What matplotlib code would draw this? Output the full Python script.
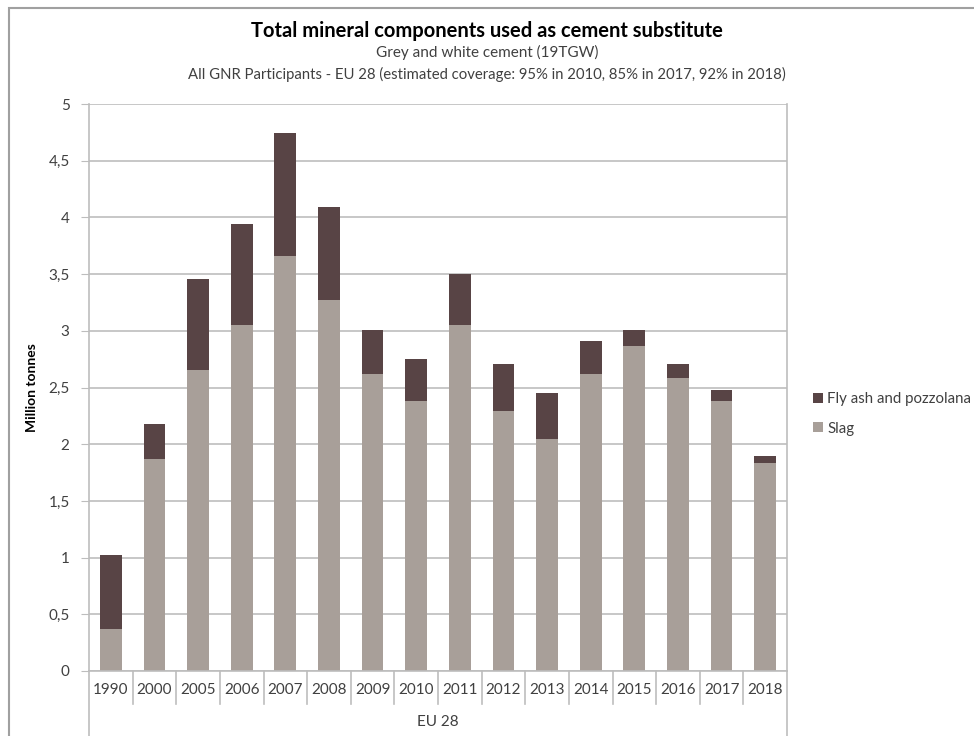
import matplotlib.pyplot as plt
from matplotlib.patches import Rectangle
from matplotlib.lines import Line2D
from matplotlib.ticker import FuncFormatter

plt.rcParams['font.family'] = ['Lato', 'DejaVu Sans']

years = ['1990', '2000', '2005', '2006', '2007', '2008', '2009', '2010',
         '2011', '2012', '2013', '2014', '2015', '2016', '2017', '2018']
slag = [0.37, 1.87, 2.65, 3.05, 3.66, 3.27, 2.62, 2.38,
        3.05, 2.29, 2.05, 2.62, 2.87, 2.58, 2.38, 1.83]
totale = [1.02, 2.18, 3.46, 3.94, 4.74, 4.09, 3.01, 2.75,
          3.50, 2.71, 2.45, 2.91, 3.01, 2.71, 2.48, 1.90]
fly_ash = [t - s for t, s in zip(totale, slag)]
gruppo = 'EU 28'

col_slag = '#a89f99'
col_fly = '#584445'
col_grid = '#bdbdbd'
col_txt = '#404040'

fig = plt.figure(figsize=(9.74, 7.36), dpi=100)
ax = fig.add_axes([89 / 974, 1 - 671 / 736, (787 - 89) / 974, (671 - 104) / 736])

x = list(range(len(years)))
ax.bar(x, slag, width=0.5, color=col_slag, label='Slag', zorder=3)
ax.bar(x, fly_ash, width=0.5, bottom=slag, color=col_fly,
       label='Fly ash and pozzolana', zorder=3)

ax.set_xlim(-0.5, len(years) - 0.5)
ax.set_ylim(0, 5)
ax.set_yticks([i * 0.5 for i in range(11)])
ax.yaxis.set_major_formatter(FuncFormatter(lambda v, p: ('%g' % v).replace('.', ',')))
ax.yaxis.grid(True, color=col_grid, linewidth=1.2, zorder=0)
ax.tick_params(axis='y', length=6, color=col_grid, labelsize=11, labelcolor=col_txt, pad=8)
ax.set_xticks([])

for s in ['top', 'bottom', 'right']:
    ax.spines[s].set_visible(False)
ax.spines['left'].set_color(col_grid)
ax.spines['left'].set_linewidth(1.2)
ax.plot([-0.5, len(years) - 0.5], [0, 0], color=col_grid, lw=1.2,
        clip_on=False, zorder=4)
# bordo destro dell'area del grafico
ax.plot([len(years) - 0.5] * 2, [0, 5], color=col_grid, lw=1.2, clip_on=False, zorder=1)

# etichette asse x a due livelli
trans = ax.get_xaxis_transform()
px = 1 / (671 - 104)
for i, yr in enumerate(years):
    ax.text(i, -19 * px, yr, transform=trans, ha='center', va='center',
            fontsize=11, color=col_txt)
for i in range(1, len(years)):
    ax.add_line(Line2D([i - 0.5] * 2, [0, -33 * px], transform=trans,
                       color=col_grid, lw=1.2, clip_on=False))
for xe in [-0.5, len(years) - 0.5]:
    ax.add_line(Line2D([xe] * 2, [0, -65 * px], transform=trans,
                       color=col_grid, lw=1.2, clip_on=False))
ax.text((len(years) - 1) / 2, -51 * px, gruppo, transform=trans, ha='center',
        va='center', fontsize=11, color=col_txt)

ax.set_ylabel('Million tonnes', fontsize=10, fontweight='bold', color='black', labelpad=0)
ax.yaxis.set_label_coords(-51 / 698, 0.5)

fig.text(0.5, 1 - 31 / 736, 'Total mineral components used as cement substitute',
         ha='center', va='center', fontsize=14.5, fontweight='bold', color='black')
fig.text(0.5, 1 - 52 / 736, 'Grey and white cement (19TGW)',
         ha='center', va='center', fontsize=11, color=col_txt)
fig.text(0.5, 1 - 74 / 736,
         'All GNR Participants - EU 28 (estimated coverage: 95% in 2010, 85% in 2017, 92% in 2018)',
         ha='center', va='center', fontsize=10.7, color=col_txt)

handles, labels = ax.get_legend_handles_labels()
leg = fig.legend(handles[::-1], labels[::-1], loc='center left',
                 bbox_to_anchor=(813 / 974, 1 - 414 / 736), frameon=False,
                 fontsize=10.8, handlelength=0.65, handleheight=0.65,
                 handletextpad=0.3, labelspacing=1.0, borderpad=0,
                 borderaxespad=0)
for t in leg.get_texts():
    t.set_color(col_txt)

# cornice esterna del grafico
fig.add_artist(Rectangle((9 / 974, -0.1), 1.1, 1 - 8 / 736 + 0.1,
                         transform=fig.transFigure, fill=False,
                         edgecolor='#a0a0a0', lw=1.5))

fig.savefig('out.png', dpi=100)
